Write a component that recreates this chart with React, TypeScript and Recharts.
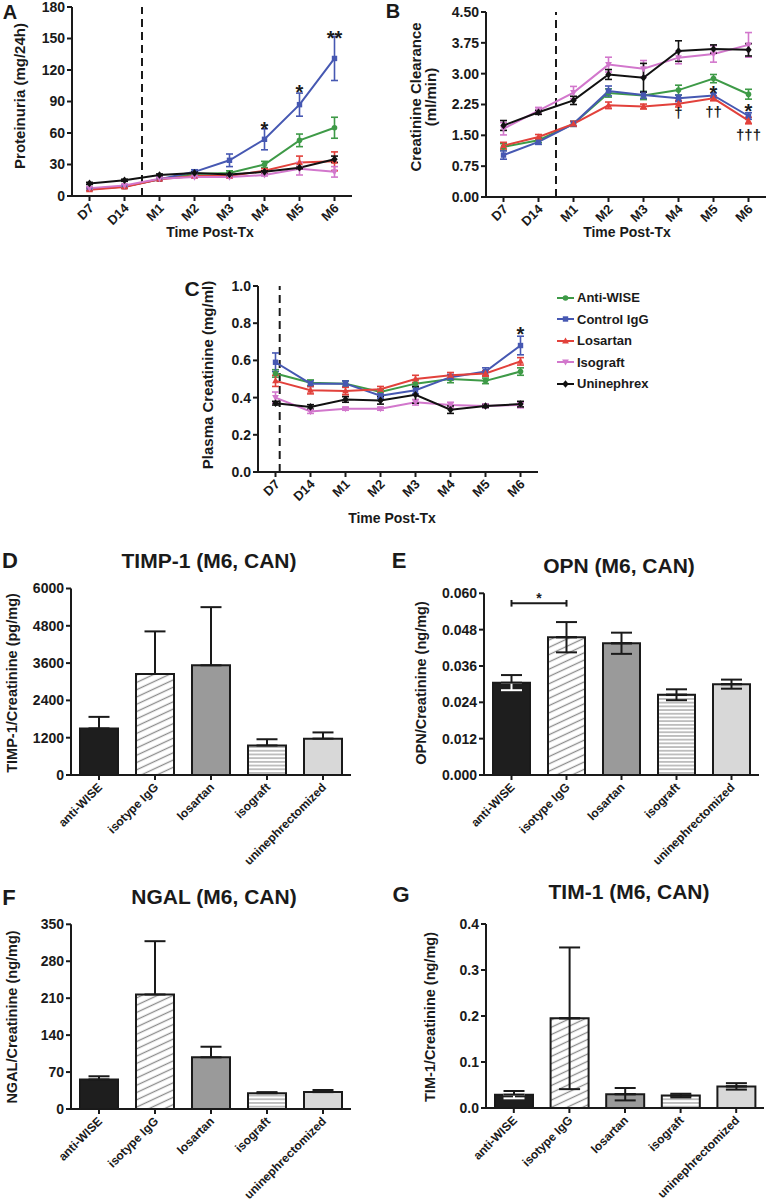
import React from "react";
import {
  LineChart,
  Line,
  BarChart,
  Bar,
  Cell,
  XAxis,
  YAxis,
  ErrorBar,
  ReferenceLine,
  ReferenceDot,
  Legend,
} from "recharts";

const FONT = '"Liberation Sans", Arial, Helvetica, sans-serif';
const INK = "#1a1a1a";

// ---- time course panels (A-C) ----
const timeLabels = ["D7", "D14", "M1", "M2", "M3", "M4", "M5", "M6"];
const groupNames = ["Anti-WISE", "Control IgG", "Losartan", "Isograft", "Uninephrex"];

// A: proteinuria (mg/24h)
const protAntiWise = [7, 9, 16, 21, 22, 30, 53, 65];
const protAntiWiseSem = [1, 1, 1, 1, 2, 3, 6, 10];
const protControlIgG = [6.5, 9, 16, 23, 34, 54, 87, 131];
const protControlIgGSem = [1, 1, 1, 2, 6, 10, 11, 21];
const protLosartan = [6, 8.5, 16, 19, 19, 24, 32, 33];
const protLosartanSem = [1, 1, 1, 1, 1, 2, 6, 9];
const protIsograft = [7.5, 10, 16.5, 18, 18, 20, 26, 23];
const protIsograftSem = [1, 1, 1, 1, 1, 1, 6, 5];
const protUninephrex = [12, 15, 20, 22, 20.5, 23, 27, 35];
const protUninephrexSem = [1, 1, 1, 1, 1, 1, 1, 3];
const protMarks = [
  { at: 5, y: 68, text: "*" },
  { at: 6, y: 103, text: "*" },
  { at: 7, y: 155, text: "**" },
];

// B: creatinine clearance (ml/min)
const clearAntiWise = [1.22, 1.38, 1.78, 2.53, 2.47, 2.6, 2.88, 2.5];
const clearAntiWiseSem = [0.08, 0.06, 0.06, 0.1, 0.1, 0.12, 0.1, 0.12];
const clearControlIgG = [1.02, 1.34, 1.78, 2.58, 2.48, 2.4, 2.47, 1.97];
const clearControlIgGSem = [0.1, 0.06, 0.06, 0.12, 0.08, 0.08, 0.06, 0.08];
const clearLosartan = [1.25, 1.46, 1.78, 2.23, 2.2, 2.27, 2.4, 1.86];
const clearLosartanSem = [0.08, 0.06, 0.06, 0.08, 0.06, 0.08, 0.06, 0.08];
const clearIsograft = [1.66, 2.1, 2.54, 3.22, 3.12, 3.39, 3.48, 3.7];
const clearIsograftSem = [0.15, 0.08, 0.15, 0.18, 0.2, 0.15, 0.2, 0.3];
const clearUninephrex = [1.74, 2.06, 2.35, 2.98, 2.9, 3.55, 3.6, 3.58];
const clearUninephrexSem = [0.12, 0.05, 0.1, 0.12, 0.35, 0.25, 0.1, 0.15];
const clearMarks = [
  { at: 6, y: 2.63, text: "*" },
  { at: 7, y: 2.2, text: "*" },
  { at: 5, y: 2.03, text: "†" },
  { at: 6, y: 2.04, text: "††" },
  { at: 7, y: 1.5, text: "†††" },
];

// C: plasma creatinine (mg/ml)
const plasmaAntiWise = [0.53, 0.48, 0.475, 0.43, 0.475, 0.5, 0.49, 0.54];
const plasmaAntiWiseSem = [0.02, 0.015, 0.015, 0.015, 0.02, 0.02, 0.015, 0.02];
const plasmaControlIgG = [0.59, 0.475, 0.475, 0.41, 0.44, 0.51, 0.54, 0.68];
const plasmaControlIgGSem = [0.05, 0.015, 0.015, 0.015, 0.02, 0.015, 0.02, 0.05];
const plasmaLosartan = [0.49, 0.44, 0.435, 0.445, 0.5, 0.52, 0.53, 0.595];
const plasmaLosartanSem = [0.03, 0.02, 0.02, 0.015, 0.02, 0.015, 0.015, 0.02];
const plasmaIsograft = [0.4, 0.325, 0.34, 0.34, 0.375, 0.36, 0.355, 0.36];
const plasmaIsograftSem = [0.03, 0.01, 0.008, 0.008, 0.015, 0.015, 0.01, 0.015];
const plasmaUninephrex = [0.37, 0.35, 0.39, 0.385, 0.415, 0.335, 0.355, 0.365];
const plasmaUninephrexSem = [0.01, 0.012, 0.015, 0.02, 0.045, 0.02, 0.008, 0.015];
const plasmaMarks = [{ at: 7, y: 0.765, text: "*" }];

// ---- M6 urine biomarker panels (D-G) ----
const barGroups = ["anti-WISE", "isotype IgG", "losartan", "isograft", "uninephrectomized"];
const timpValues = [1500, 3250, 3530, 950, 1170];
const timpSem = [370, 1370, 1870, 200, 200];
const opnValues = [0.0305, 0.0455, 0.0435, 0.0265, 0.03];
const opnSem = [0.0025, 0.005, 0.0035, 0.0018, 0.0015];
const ngalValues = [56, 217, 98, 30, 32];
const ngalSem = [6, 101, 20, 2, 4];
const timValues = [0.029, 0.195, 0.03, 0.027, 0.047];
const timSem = [0.008, 0.154, 0.0135, 0.004, 0.007];

const groupStyle: Record<string, { color: string; marker: string }> = {
  "Anti-WISE": { color: "#3e9a47", marker: "circle" },
  "Control IgG": { color: "#4658b2", marker: "square" },
  Losartan: { color: "#e2413b", marker: "triangle" },
  Isograft: { color: "#d277cc", marker: "triangleDown" },
  Uninephrex: { color: "#111111", marker: "diamond" },
};

const axisStroke = { stroke: INK, strokeWidth: 2 };
const tickFont = { fontSize: 14, fontWeight: 700, fill: INK };

function buildTimeTable(means: number[][], sems: number[][]) {
  return timeLabels.map((t, i) => {
    const row: any = { i, t };
    groupNames.forEach((_, k) => {
      row[`m${k}`] = means[k][i];
      row[`e${k}`] = sems[k][i];
    });
    return row;
  });
}

const protData = buildTimeTable(
  [protAntiWise, protControlIgG, protLosartan, protIsograft, protUninephrex],
  [protAntiWiseSem, protControlIgGSem, protLosartanSem, protIsograftSem, protUninephrexSem]
);
const clearData = buildTimeTable(
  [clearAntiWise, clearControlIgG, clearLosartan, clearIsograft, clearUninephrex],
  [clearAntiWiseSem, clearControlIgGSem, clearLosartanSem, clearIsograftSem, clearUninephrexSem]
);
const plasmaData = buildTimeTable(
  [plasmaAntiWise, plasmaControlIgG, plasmaLosartan, plasmaIsograft, plasmaUninephrex],
  [plasmaAntiWiseSem, plasmaControlIgGSem, plasmaLosartanSem, plasmaIsograftSem, plasmaUninephrexSem]
);

function Marker({ shape, cx, cy, color }: any) {
  if (shape === "circle") return <circle cx={cx} cy={cy} r={2.8} fill={color} />;
  if (shape === "square") return <rect x={cx - 2.7} y={cy - 2.7} width={5.4} height={5.4} fill={color} />;
  if (shape === "triangle")
    return <polygon points={`${cx},${cy - 3.6} ${cx + 3.4},${cy + 2.5} ${cx - 3.4},${cy + 2.5}`} fill={color} />;
  if (shape === "triangleDown")
    return <polygon points={`${cx},${cy + 3.6} ${cx + 3.4},${cy - 2.5} ${cx - 3.4},${cy - 2.5}`} fill={color} />;
  return <polygon points={`${cx},${cy - 3.8} ${cx + 3.2},${cy} ${cx},${cy + 3.8} ${cx - 3.2},${cy}`} fill={color} />;
}

function TimeTick({ x, y, payload }: any) {
  return (
    <text
      x={0}
      y={0}
      transform={`translate(${x + 5},${y + 6}) rotate(-45)`}
      textAnchor="end"
      fontSize={13}
      fontWeight={700}
      fill={INK}
    >
      {timeLabels[payload.value]}
    </text>
  );
}

function GroupTick({ x, y, payload }: any) {
  return (
    <text
      x={0}
      y={0}
      transform={`translate(${x + 4},${y + 6}) rotate(-45)`}
      textAnchor="end"
      fontSize={12}
      fontWeight={700}
      fill={INK}
    >
      {payload.value}
    </text>
  );
}

const annotShape = (text: string, size: number) => (p: any) => {
  const lift = text.startsWith("*") ? 0.57 : 0.29;
  return (
    <text x={p.cx} y={p.cy + lift * size} textAnchor="middle" fontSize={size} fontWeight={700} fill={INK}>
      {text}
    </text>
  );
};

function Txt({ x, y, size = 14, rot = 0, children }: any) {
  return (
    <div
      style={{
        position: "absolute",
        left: x,
        top: y,
        transform: `translate(-50%, -50%) rotate(${rot}deg)`,
        fontSize: size,
        fontWeight: 700,
        whiteSpace: "nowrap",
        lineHeight: "15px",
        textAlign: "center",
        color: INK,
      }}
    >
      {children}
    </div>
  );
}

function TimeLegend({ payload }: any) {
  // keep the legend in the figure's group order, not alphabetical
  const items = [...(payload || [])].sort(
    (a: any, b: any) => groupNames.indexOf(a.value) - groupNames.indexOf(b.value)
  );
  return (
    <div style={{ fontFamily: FONT }}>
      {items.map((p: any) => {
        const s = groupStyle[p.value];
        return (
          <div key={p.value} style={{ display: "flex", alignItems: "center", height: 21.5 }}>
            <svg width={17} height={10}>
              <line x1={0} y1={5} x2={17} y2={5} stroke={s.color} strokeWidth={2} />
              <Marker shape={s.marker} cx={8.5} cy={5} color={s.color} />
            </svg>
            <span style={{ marginLeft: 3, fontSize: 13, fontWeight: 700, color: INK }}>{p.value}</span>
          </div>
        );
      })}
    </div>
  );
}

function TimeCourse({ data, yMax, yTicks, fmt, dashAt, marks, box, margin, yAxisW, xAxisH, withLegend }: any) {
  return (
    <div style={{ position: "absolute", left: box.left, top: box.top }}>
      <LineChart width={box.w} height={box.h} data={data} margin={margin}>
        <XAxis
          type="number"
          dataKey="i"
          domain={[-0.5, 7.5]}
          ticks={[0, 1, 2, 3, 4, 5, 6, 7]}
          interval={0}
          height={xAxisH}
          tick={<TimeTick />}
          axisLine={axisStroke}
          tickLine={axisStroke}
          tickSize={5}
        />
        <YAxis
          type="number"
          domain={[0, yMax]}
          ticks={yTicks}
          interval={0}
          width={yAxisW}
          tickFormatter={fmt}
          tick={tickFont}
          axisLine={axisStroke}
          tickLine={axisStroke}
          tickSize={5}
        />
        <ReferenceLine x={dashAt} stroke={INK} strokeWidth={2} strokeDasharray="8 5" />
        {groupNames.map((g, k) => {
          const s = groupStyle[g];
          return (
            <Line
              key={g}
              dataKey={`m${k}`}
              name={g}
              stroke={s.color}
              strokeWidth={2}
              dot={(p: any) => <Marker key={`${g}-${p.index}`} shape={s.marker} cx={p.cx} cy={p.cy} color={s.color} />}
              activeDot={false}
              isAnimationActive={false}
            >
              <ErrorBar dataKey={`e${k}`} width={3.5} stroke={s.color} strokeWidth={1.6} isAnimationActive={false} />
            </Line>
          );
        })}
        {marks.map((m: any, j: number) => (
          <ReferenceDot
            key={j}
            x={m.at}
            y={m.y}
            r={0}
            shape={annotShape(m.text, m.text.startsWith("*") ? 20 : 15)}
          />
        ))}
        {withLegend && (
          <Legend
            layout="vertical"
            align="center"
            verticalAlign="middle"
            wrapperStyle={{ left: 377, top: 37, width: 200 }}
            content={<TimeLegend />}
          />
        )}
      </LineChart>
    </div>
  );
}

const barFills = (id: string) => ["#1e1e1e", `url(#diag-${id})`, "#9a9a9a", `url(#horiz-${id})`, "#d8d8d8"];
const darkBars = [true, false, false, false, false];

function BarPanel({ id, values, sems, twoSided, yMax, yTicks, fmt, box, margin, yAxisW, xAxisH, barSize, children }: any) {
  const rows = barGroups.map((name, k) => ({
    name,
    value: values[k],
    errUp: [0, sems[k]],
    errDownDark: twoSided && darkBars[k] ? [sems[k], 0] : null,
    errDownLight: twoSided && !darkBars[k] ? [sems[k], 0] : null,
  }));
  const fills = barFills(id);
  return (
    <div style={{ position: "absolute", left: box.left, top: box.top }}>
      <BarChart width={box.w} height={box.h} data={rows} margin={margin}>
        <defs>
          <pattern id={`diag-${id}`} patternUnits="userSpaceOnUse" width={12} height={6.6} patternTransform="rotate(-25)">
            <rect width={12} height={6.6} fill="#fff" />
            <line x1={0} y1={3.3} x2={12} y2={3.3} stroke="#8c8c8c" strokeWidth={1.3} />
          </pattern>
          <pattern id={`horiz-${id}`} patternUnits="userSpaceOnUse" width={8} height={3.7}>
            <rect width={8} height={3.7} fill="#fff" />
            <line x1={0} y1={1.85} x2={8} y2={1.85} stroke="#9a9a9a" strokeWidth={1.2} />
          </pattern>
        </defs>
        <XAxis
          dataKey="name"
          interval={0}
          height={xAxisH}
          tick={<GroupTick />}
          axisLine={axisStroke}
          tickLine={axisStroke}
          tickSize={5}
        />
        <YAxis
          type="number"
          domain={[0, yMax]}
          ticks={yTicks}
          interval={0}
          width={yAxisW}
          tickFormatter={fmt}
          tick={tickFont}
          axisLine={axisStroke}
          tickLine={axisStroke}
          tickSize={5}
        />
        <Bar dataKey="value" barSize={barSize} stroke={INK} strokeWidth={2} isAnimationActive={false}>
          {rows.map((r, k) => (
            <Cell key={r.name} fill={fills[k]} />
          ))}
          <ErrorBar dataKey="errDownDark" width={10.5} stroke="#ffffff" strokeWidth={2} isAnimationActive={false} />
          <ErrorBar dataKey="errDownLight" width={10.5} stroke={INK} strokeWidth={2} isAnimationActive={false} />
          <ErrorBar dataKey="errUp" width={10.5} stroke={INK} strokeWidth={2} isAnimationActive={false} />
        </Bar>
        {children}
      </BarChart>
    </div>
  );
}

export default function App() {
  return (
    <div
      style={{
        position: "absolute",
        left: 0,
        top: 0,
        width: 768,
        height: 1203,
        background: "#fff",
        fontFamily: FONT,
        color: INK,
      }}
    >
      {/* A */}
      <TimeCourse
        data={protData}
        yMax={180}
        yTicks={[0, 30, 60, 90, 120, 150, 180]}
        fmt={(v: number) => String(v)}
        dashAt={1.5}
        marks={protMarks}
        box={{ left: 0, top: 0, w: 384, h: 245 }}
        margin={{ top: 7, right: 32, bottom: 0, left: 0 }}
        yAxisW={72}
        xAxisH={49}
      />
      {/* B */}
      <TimeCourse
        data={clearData}
        yMax={4.5}
        yTicks={[0, 0.75, 1.5, 2.25, 3, 3.75, 4.5]}
        fmt={(v: number) => v.toFixed(2)}
        dashAt={1.5}
        marks={clearMarks}
        box={{ left: 384, top: 0, w: 384, h: 245 }}
        margin={{ top: 12, right: 2, bottom: 0, left: 0 }}
        yAxisW={102}
        xAxisH={48}
      />
      {/* C */}
      <TimeCourse
        data={plasmaData}
        yMax={1}
        yTicks={[0, 0.2, 0.4, 0.6, 0.8, 1]}
        fmt={(v: number) => v.toFixed(1)}
        dashAt={0.12}
        marks={plasmaMarks}
        box={{ left: 180, top: 250, w: 588, h: 280 }}
        margin={{ top: 36, right: 230, bottom: 0, left: 0 }}
        yAxisW={78}
        xAxisH={58}
        withLegend
      />
      {/* D */}
      <BarPanel
        id="d"
        values={timpValues}
        sems={timpSem}
        yMax={6000}
        yTicks={[0, 1200, 2400, 3600, 4800, 6000]}
        fmt={(v: number) => String(v)}
        box={{ left: 0, top: 575, w: 384, h: 300 }}
        margin={{ top: 13.5, right: 33, bottom: 0, left: 0 }}
        yAxisW={71}
        xAxisH={100}
        barSize={38}
      />
      {/* E */}
      <BarPanel
        id="e"
        values={opnValues}
        sems={opnSem}
        twoSided
        yMax={0.06}
        yTicks={[0, 0.012, 0.024, 0.036, 0.048, 0.06]}
        fmt={(v: number) => v.toFixed(3)}
        box={{ left: 384, top: 575, w: 384, h: 300 }}
        margin={{ top: 18.3, right: 9, bottom: 0, left: 0 }}
        yAxisW={100}
        xAxisH={100}
        barSize={37}
      >
        <ReferenceLine
          segment={[
            { x: "anti-WISE", y: 0.0567 },
            { x: "isotype IgG", y: 0.0567 },
          ]}
          stroke={INK}
          strokeWidth={2}
          label={{ value: "*", position: "top", fontSize: 14, fontWeight: 700, fill: INK, offset: 0 }}
        />
        <ReferenceLine
          segment={[
            { x: "anti-WISE", y: 0.0578 },
            { x: "anti-WISE", y: 0.0556 },
          ]}
          stroke={INK}
          strokeWidth={2}
        />
        <ReferenceLine
          segment={[
            { x: "isotype IgG", y: 0.0578 },
            { x: "isotype IgG", y: 0.0556 },
          ]}
          stroke={INK}
          strokeWidth={2}
        />
      </BarPanel>
      {/* F */}
      <BarPanel
        id="f"
        values={ngalValues}
        sems={ngalSem}
        yMax={350}
        yTicks={[0, 70, 140, 210, 280, 350]}
        fmt={(v: number) => String(v)}
        box={{ left: 0, top: 905, w: 384, h: 298 }}
        margin={{ top: 19.3, right: 33, bottom: 0, left: 0 }}
        yAxisW={71}
        xAxisH={94}
        barSize={38}
      />
      {/* G */}
      <BarPanel
        id="g"
        values={timValues}
        sems={timSem}
        twoSided
        yMax={0.4}
        yTicks={[0, 0.1, 0.2, 0.3, 0.4]}
        fmt={(v: number) => v.toFixed(1)}
        box={{ left: 384, top: 905, w: 384, h: 298 }}
        margin={{ top: 19, right: 4, bottom: 0, left: 0 }}
        yAxisW={102}
        xAxisH={95}
        barSize={38}
      />

      {/* panel letters */}
      <Txt x={10} y={12} size={20}>A</Txt>
      <Txt x={393} y={11} size={20}>B</Txt>
      <Txt x={192} y={288} size={21}>C</Txt>
      <Txt x={10} y={560} size={22}>D</Txt>
      <Txt x={399} y={560} size={22}>E</Txt>
      <Txt x={9} y={897} size={22}>F</Txt>
      <Txt x={401} y={894} size={22}>G</Txt>

      {/* titles */}
      <Txt x={209} y={560} size={21}>TIMP-1 (M6, CAN)</Txt>
      <Txt x={619} y={565} size={21}>OPN (M6, CAN)</Txt>
      <Txt x={214} y={896} size={21}>NGAL (M6, CAN)</Txt>
      <Txt x={629} y={891} size={21}>TIM-1 (M6, CAN)</Txt>

      {/* axis titles */}
      <Txt x={19} y={96} size={15} rot={-90}>Proteinuria (mg/24h)</Txt>
      <Txt x={423} y={97} size={15} rot={-90}>
        Creatinine Clearance
        <br />
        (ml/min)
      </Txt>
      <Txt x={207} y={375} size={15} rot={-90}>Plasma Creatinine (mg/ml)</Txt>
      <Txt x={210} y={232} size={14}>Time Post-Tx</Txt>
      <Txt x={627} y={232} size={14}>Time Post-Tx</Txt>
      <Txt x={392} y={518} size={14}>Time Post-Tx</Txt>
      <Txt x={12} y={683} size={14.5} rot={-90}>TIMP-1/Creatinine (pg/mg)</Txt>
      <Txt x={421} y={683} size={14.5} rot={-90}>OPN/Creatinine (ng/mg)</Txt>
      <Txt x={12} y={1017} size={14.5} rot={-90}>NGAL/Creatinine (ng/mg)</Txt>
      <Txt x={430} y={1017} size={14.5} rot={-90}>TIM-1/Creatinine (ng/mg)</Txt>
    </div>
  );
}
